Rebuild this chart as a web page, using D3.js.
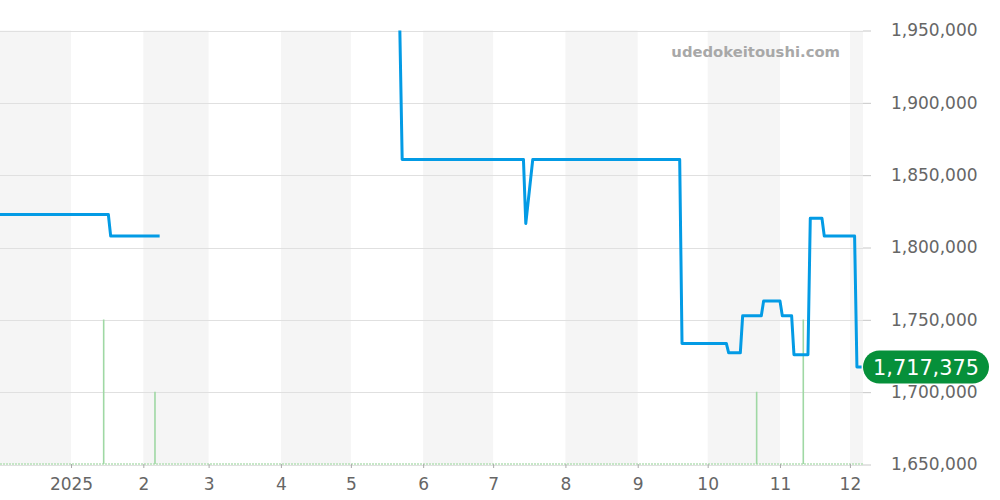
<!DOCTYPE html>
<html>
<head>
<meta charset="utf-8">
<script src="https://cdn.jsdelivr.net/npm/d3@7"></script>
<style>
  html, body { margin: 0; padding: 0; background: #fff; }
  svg { display: block; font-family: "DejaVu Sans", sans-serif; }
</style>
</head>
<body>
<svg id="chart" width="1000" height="500"></svg>
<script>
// ---- Data ----
const priceDates = [
  "2024-12-01", "2025-01-17", "2025-01-18", "2025-02-08",
  "2025-03-15",
  "2025-05-22", "2025-05-23", "2025-07-14", "2025-07-15", "2025-07-18",
  "2025-09-19", "2025-09-20", "2025-10-09", "2025-10-10", "2025-10-15",
  "2025-10-16", "2025-10-24", "2025-10-25", "2025-11-01", "2025-11-02",
  "2025-11-06", "2025-11-07", "2025-11-13", "2025-11-14", "2025-11-19",
  "2025-11-20", "2025-12-03", "2025-12-04", "2025-12-06"
];
const priceValues = [
  1822800, 1822800, 1807900, 1807900,
  null,
  1950000, 1860900, 1860900, 1816600, 1860900,
  1860900, 1733700, 1733700, 1727200, 1727200,
  1752800, 1752800, 1763100, 1763100, 1752800,
  1752800, 1725900, 1725900, 1820200, 1820200,
  1807900, 1807900, 1717375, 1717375
];
const volumeDates = ["2025-01-15", "2025-02-06", "2025-10-22", "2025-11-11"];
const volumeValues = [2, 1, 1, 2];
const yTickValues = [1650000, 1700000, 1750000, 1800000, 1850000, 1900000, 1950000];
const lastPriceLabel = "1,717,375";
const watermark = "udedokeitoushi.com";

// ---- Setup ----
const svg = d3.select("#chart");
const W = 863, plotTop = 30.5, plotBottom = 464.5;
const parse = d3.utcParse("%Y-%m-%d");

const x = d3.scaleUtc()
  .domain([new Date(Date.UTC(2024, 11, 1, 13, 0)), new Date(Date.UTC(2025, 11, 6, 14, 30))])
  .range([0, W]);
const y = d3.scaleLinear().domain([1650000, 1950000]).range([plotBottom, plotTop]);
const yVol = d3.scaleLinear().domain([0, 6]).range([plotBottom - 0.5, plotTop]);

const defs = svg.append("defs");
defs.append("clipPath").attr("id", "plotClip")
  .append("rect").attr("x", 0).attr("y", plotTop - 1).attr("width", W).attr("height", plotBottom - plotTop + 1);

// Month shading
const months = d3.utcMonth.range(d3.utcMonth.floor(x.domain()[0]), x.domain()[1]);
svg.append("g").selectAll("rect")
  .data(months.filter(m => m.getUTCMonth() % 2 === 1))
  .join("rect")
  .attr("x", d => Math.max(0, x(d)))
  .attr("y", plotTop)
  .attr("width", d => Math.min(W, x(d3.utcMonth.offset(d, 1))) - Math.max(0, x(d)))
  .attr("height", plotBottom - plotTop)
  .attr("fill", "#f5f5f5");

// Horizontal gridlines
svg.append("g").selectAll("line")
  .data(yTickValues)
  .join("line")
  .attr("x1", 0).attr("x2", W)
  .attr("y1", d => Math.round(y(d)) + 0.5).attr("y2", d => Math.round(y(d)) + 0.5)
  .attr("stroke", "#e0e0e0").attr("stroke-width", 1);

// Right axis
const yAxis = d3.axisRight(y)
  .tickValues(yTickValues)
  .tickSize(8)
  .tickPadding(20)
  .tickFormat(d3.format(","));
const gy = svg.append("g").attr("transform", `translate(${W},0)`).call(yAxis);
gy.select(".domain").remove();
gy.selectAll(".tick line").attr("stroke", "#c8c8c8");
gy.selectAll(".tick text").attr("fill", "#666").style("font-size", "17px")
  .attr("font-family", "DejaVu Sans, sans-serif");

// Volume baseline (dotted green)
svg.append("line")
  .attr("x1", 0).attr("x2", W)
  .attr("y1", plotBottom - 0.5).attr("y2", plotBottom - 0.5)
  .attr("stroke", "#b5dfb7").attr("stroke-width", 1.5)
  .attr("stroke-dasharray", "2,1");

// Volume bars
svg.append("g").selectAll("line")
  .data(volumeDates.map((d, i) => ({ date: parse(d), v: volumeValues[i] })))
  .join("line")
  .attr("x1", d => x(d.date)).attr("x2", d => x(d.date))
  .attr("y1", yVol(0)).attr("y2", d => yVol(d.v))
  .attr("stroke", "#9fd8a4").attr("stroke-width", 1.6);

// Bottom axis
const xAxis = d3.axisBottom(x)
  .ticks(d3.utcMonth.every(1))
  .tickSize(4)
  .tickPadding(10)
  .tickFormat(d => d.getUTCMonth() === 0 ? d3.utcFormat("%Y")(d) : String(d.getUTCMonth() + 1));
const gx = svg.append("g").attr("transform", `translate(0,${plotBottom - 0.5})`).call(xAxis);
gx.select(".domain").remove();
gx.selectAll(".tick line").attr("stroke", "#aaa");
gx.selectAll(".tick text").attr("fill", "#666").style("font-size", "17px")
  .attr("font-family", "DejaVu Sans, sans-serif");

// Price line
const priceData = priceDates.map((d, i) => ({ date: parse(d), v: priceValues[i] }));
const line = d3.line()
  .defined(d => d.v != null)
  .x(d => x(d.date))
  .y(d => y(d.v));
svg.append("path")
  .datum(priceData)
  .attr("clip-path", "url(#plotClip)")
  .attr("d", line)
  .attr("fill", "none")
  .attr("stroke", "#039be5")
  .attr("stroke-width", 3)
  .attr("stroke-linejoin", "round");

// Watermark
svg.append("text")
  .attr("x", 840).attr("y", 57)
  .attr("text-anchor", "end")
  .attr("fill", "#a8a8a8")
  .style("font-size", "14.8px")
  .style("font-weight", "bold")
  .text(watermark);

// Last price label
const last = priceData[priceData.length - 1];
const ly = y(last.v);
const lg = svg.append("g");
lg.append("rect")
  .attr("x", W).attr("y", ly - 16.5)
  .attr("width", 126).attr("height", 33)
  .attr("rx", 16.5).attr("ry", 16.5)
  .attr("fill", "#06903a");
lg.append("text")
  .attr("x", W + 63).attr("y", ly)
  .attr("dy", "0.36em")
  .attr("text-anchor", "middle")
  .attr("fill", "#fff")
  .style("font-size", "20.8px")
  .text(lastPriceLabel);
</script>
</body>
</html>
